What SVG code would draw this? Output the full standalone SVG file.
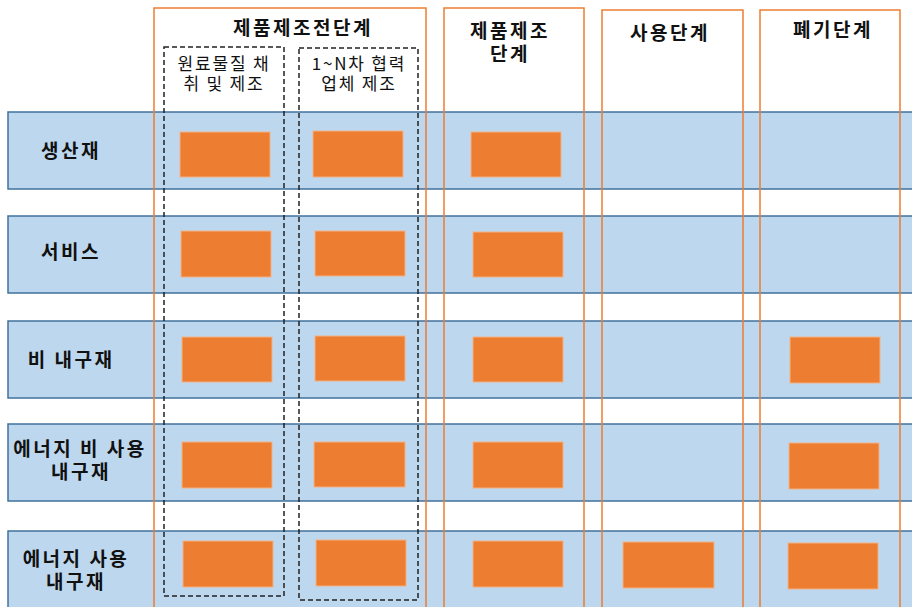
<svg xmlns="http://www.w3.org/2000/svg" width="912" height="607" viewBox="0 0 912 607">
<style>
.row{fill:#BDD7EE;stroke:#41719C;stroke-width:1.5}
.col{fill:none;stroke:#ED7D31;stroke-width:1.5}
.dash{fill:none;stroke:#222;stroke-width:1.5;stroke-dasharray:5,3}
.box{fill:#ED7D31;stroke:#F4B183;stroke-width:1}
.h{font-family:"Noto Sans CJK KR","Noto Sans",sans-serif;font-weight:bold;font-size:19px;letter-spacing:2.5px;fill:#111;text-anchor:middle}
.s{font-family:"Noto Sans CJK KR","Noto Sans",sans-serif;font-size:17px;letter-spacing:1.8px;fill:#111;text-anchor:middle}
</style>
<rect width="912" height="607" fill="#fff"/>
<g id="rows">
<g id="row-1"><rect class="row" x="8" y="112" width="915" height="77"/><text class="h" x="71" y="158">생산재</text></g>
<g id="row-2"><rect class="row" x="8" y="216" width="915" height="77"/><text class="h" x="71" y="259">서비스</text></g>
<g id="row-3"><rect class="row" x="8" y="321" width="915" height="77"/><text class="h" x="71" y="367">비 내구재</text></g>
<g id="row-4"><rect class="row" x="8" y="424" width="915" height="77"/><text class="h" x="80" y="456">에너지 비 사용</text><text class="h" x="81" y="479">내구재</text></g>
<g id="row-5"><rect class="row" x="8" y="531" width="915" height="90"/><text class="h" x="76" y="566">에너지 사용</text><text class="h" x="76" y="589">내구재</text></g>
</g>
<g id="boxes">
<rect class="box" x="180" y="132" width="90" height="45"/>
<rect class="box" x="313" y="131" width="90" height="46"/>
<rect class="box" x="471" y="132" width="90" height="45"/>
<rect class="box" x="181" y="231" width="90" height="46"/>
<rect class="box" x="315" y="231" width="90" height="45"/>
<rect class="box" x="473" y="232" width="90" height="45"/>
<rect class="box" x="182" y="337" width="90" height="45"/>
<rect class="box" x="315" y="336" width="90" height="45"/>
<rect class="box" x="473" y="337" width="90" height="45"/>
<rect class="box" x="790" y="337" width="90" height="46"/>
<rect class="box" x="182" y="442" width="90" height="46"/>
<rect class="box" x="314" y="442" width="91" height="45"/>
<rect class="box" x="473" y="442" width="90" height="46"/>
<rect class="box" x="789" y="443" width="90" height="46"/>
<rect class="box" x="183" y="541" width="90" height="46"/>
<rect class="box" x="316" y="540" width="90" height="46"/>
<rect class="box" x="473" y="541" width="90" height="46"/>
<rect class="box" x="623" y="542" width="91" height="46"/>
<rect class="box" x="788" y="543" width="90" height="46"/>
</g>
<g id="columns">
<g id="col-pre"><rect class="col" x="154" y="8" width="272" height="610"/><text class="h" x="303" y="35">제품제조전단계</text></g>
<g id="col-mfg"><rect class="col" x="444" y="8" width="140" height="610"/><text class="h" x="510" y="38">제품제조</text><text class="h" x="510" y="61">단계</text></g>
<g id="col-use"><rect class="col" x="602" y="10" width="141" height="610"/><text class="h" x="670" y="40">사용단계</text></g>
<g id="col-disposal"><rect class="col" x="760" y="10" width="140" height="610"/><text class="h" x="833" y="37">폐기단계</text></g>
</g>
<g id="sub-raw"><rect class="dash" x="164" y="47" width="120" height="549"/><text class="s" x="224" y="70">원료물질 채</text><text class="s" x="224" y="90">취 및 제조</text></g>
<g id="sub-supplier"><rect class="dash" x="299" y="48" width="119" height="552"/><text class="s" x="359" y="70">1~N차 협력</text><text class="s" x="359" y="90">업체 제조</text></g>
<g id="connectors"></g>
</svg>
